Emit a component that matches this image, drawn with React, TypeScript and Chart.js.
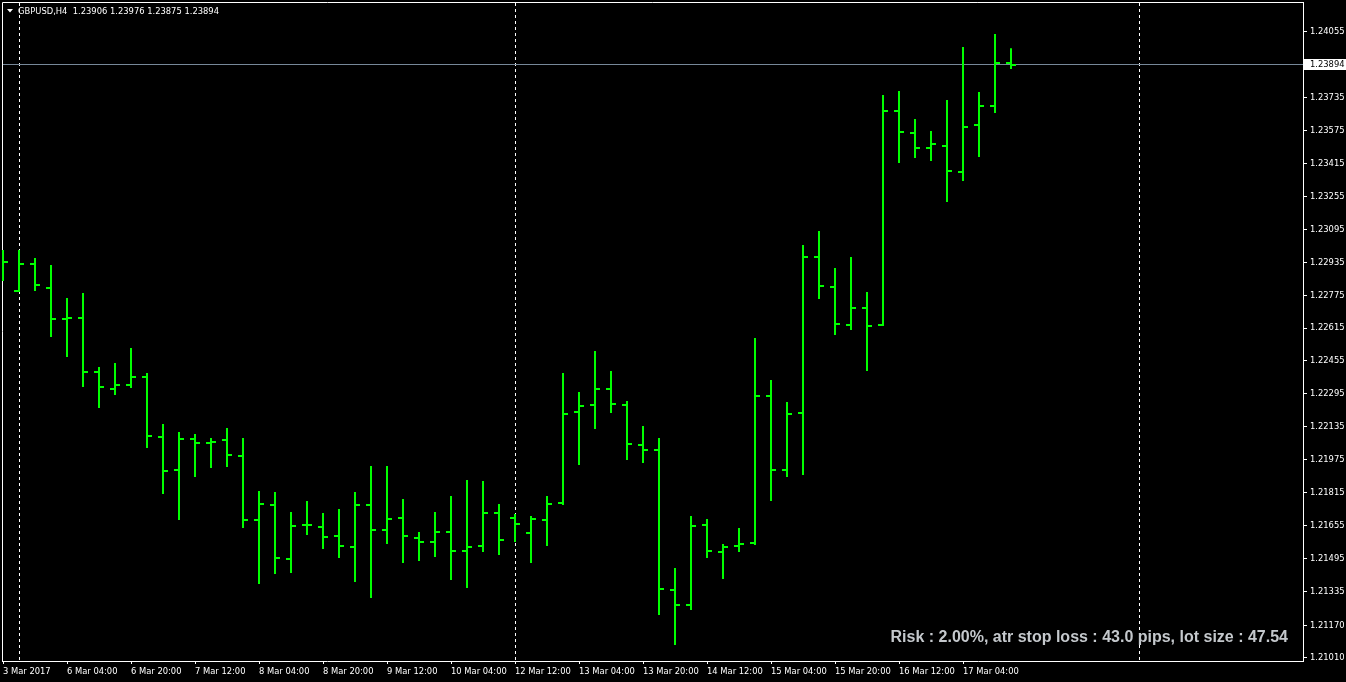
import React, { useEffect, useRef } from 'react';
import { Chart, registerables } from 'chart.js';

Chart.register(...registerables);

const symbol = 'GBPUSD';
const timeframe = 'H4';

const opens = [
  1.22897, 1.22795, 1.22927, 1.22810, 1.22659, 1.22664, 1.22401, 1.22319, 1.22338, 1.22377,
  1.22085, 1.21925, 1.22075, 1.22056, 1.22070, 1.21993, 1.21681, 1.21754, 1.21492, 1.21657,
  1.21647, 1.21604, 1.21550, 1.21754, 1.21633, 1.21691, 1.21594, 1.21574, 1.21623, 1.21531,
  1.21555, 1.21715, 1.21691, 1.21618, 1.21681, 1.21764, 1.22207, 1.22241, 1.22319, 1.22241,
  1.22046, 1.22022, 1.21341, 1.21268, 1.21657, 1.21526, 1.21555, 1.21570, 1.22285, 1.21925,
  1.22202, 1.22961, 1.22815, 1.22630, 1.22712, 1.22630, 1.23671, 1.23564, 1.23491, 1.23500,
  1.23374, 1.23603, 1.23695, 1.23906,
];

const highs = [
  1.22995, 1.22995, 1.22956, 1.22922, 1.22761, 1.22786, 1.22426, 1.22445, 1.22518, 1.22396,
  1.22148, 1.22109, 1.22100, 1.22080, 1.22129, 1.22080, 1.21822, 1.21818, 1.21720, 1.21774,
  1.21715, 1.21735, 1.21818, 1.21944, 1.21944, 1.21784, 1.21623, 1.21720, 1.21798, 1.21876,
  1.21871, 1.21759, 1.21711, 1.21701, 1.21798, 1.22396, 1.22304, 1.22503, 1.22406, 1.22260,
  1.22139, 1.22080, 1.21448, 1.21701, 1.21686, 1.21565, 1.21642, 1.22567, 1.22362, 1.22255,
  1.23019, 1.23087, 1.22907, 1.22961, 1.22790, 1.23749, 1.23768, 1.23632, 1.23574, 1.23724,
  1.23982, 1.23763, 1.24045, 1.23976,
];

const lows = [
  1.22844, 1.22790, 1.22795, 1.22572, 1.22474, 1.22328, 1.22226, 1.22289, 1.22323, 1.22032,
  1.21808, 1.21681, 1.21890, 1.21934, 1.21939, 1.21642, 1.21370, 1.21419, 1.21424, 1.21608,
  1.21540, 1.21496, 1.21380, 1.21302, 1.21565, 1.21472, 1.21482, 1.21501, 1.21390, 1.21351,
  1.21526, 1.21511, 1.21574, 1.21472, 1.21555, 1.21754, 1.21949, 1.22124, 1.22202, 1.21973,
  1.21959, 1.21219, 1.21073, 1.21244, 1.21496, 1.21394, 1.21526, 1.21560, 1.21774, 1.21890,
  1.21900, 1.22756, 1.22581, 1.22606, 1.22406, 1.22625, 1.23418, 1.23442, 1.23428, 1.23228,
  1.23330, 1.23447, 1.23661, 1.23875,
];

const closes = [
  1.22936, 1.22927, 1.22824, 1.22659, 1.22664, 1.22401, 1.22328, 1.22338, 1.22377, 1.22090,
  1.21920, 1.22075, 1.22056, 1.22061, 1.21997, 1.21681, 1.21759, 1.21496, 1.21652, 1.21657,
  1.21599, 1.21555, 1.21754, 1.21633, 1.21686, 1.21604, 1.21574, 1.21623, 1.21531, 1.21550,
  1.21715, 1.21584, 1.21662, 1.21686, 1.21759, 1.22197, 1.22236, 1.22319, 1.22246, 1.22051,
  1.22022, 1.21346, 1.21268, 1.21652, 1.21531, 1.21550, 1.21565, 1.22285, 1.21925, 1.22197,
  1.22961, 1.22820, 1.22635, 1.22712, 1.22625, 1.23671, 1.23569, 1.23491, 1.23510, 1.23379,
  1.23593, 1.23695, 1.23904, 1.23894,
];

const xTickLabels = [
  '3 Mar 2017', '6 Mar 04:00', '6 Mar 20:00', '7 Mar 12:00', '8 Mar 04:00', '8 Mar 20:00',
  '9 Mar 12:00', '10 Mar 04:00', '12 Mar 12:00', '13 Mar 04:00', '13 Mar 20:00', '14 Mar 12:00',
  '15 Mar 04:00', '15 Mar 20:00', '16 Mar 12:00', '17 Mar 04:00',
];
const xTickStep = 4;

const yTickValues = [
  1.24055, 1.23735, 1.23575, 1.23415, 1.23255, 1.23095, 1.22935, 1.22775, 1.22615, 1.22455,
  1.22295, 1.22135, 1.21975, 1.21815, 1.21655, 1.21495, 1.21335, 1.21170, 1.21010,
];

const separatorBars = [1, 32, 71];
const bidPrice = 1.23894;
const infoText = 'Risk : 2.00%, atr stop loss : 43.0 pips, lot size : 47.54';

const BAR_COLOR = '#00ff00';
const BID_COLOR = '#778899';
const AXIS_FONT = "'DejaVu Sans Condensed', 'Liberation Sans', sans-serif";
const AXIS_SIZE = 9.3;

export default function App() {
  const ref = useRef<HTMLCanvasElement>(null);

  useEffect(() => {
    document.body.style.margin = '0';
    document.body.style.background = '#000';
    const canvas = ref.current!;

    const mkTick = (side: 'open' | 'close') => {
      const c = document.createElement('canvas');
      c.width = 10;
      c.height = 2;
      const g = c.getContext('2d')!;
      g.fillStyle = BAR_COLOR;
      if (side === 'open') g.fillRect(0, 0, 4, 2);
      else g.fillRect(6, 0, 4, 2);
      return c;
    };
    const openImg = mkTick('open');
    const closeImg = mkTick('close');
    const idx = highs.map((_, i) => i);

    const mtPlugin = {
      id: 'mtDecor',
      beforeDraw(chart: any) {
        const ctx = chart.ctx;
        ctx.save();
        ctx.fillStyle = '#000';
        ctx.fillRect(0, 0, chart.width, chart.height);
        ctx.restore();
      },
      beforeDatasetsDraw(chart: any) {
        const ctx = chart.ctx;
        const a = chart.chartArea;
        const xs = chart.scales.x;
        const ys = chart.scales.y;
        ctx.save();
        ctx.strokeStyle = '#fff';
        ctx.lineWidth = 1;
        ctx.beginPath();
        ctx.moveTo(a.left + 0.5, a.bottom);
        ctx.lineTo(a.left + 0.5, a.top + 0.5);
        ctx.lineTo(a.right, a.top + 0.5);
        ctx.stroke();
        ctx.setLineDash([3, 3]);
        separatorBars.forEach((b) => {
          const x = Math.round(xs.getPixelForValue(b)) + 0.5;
          ctx.beginPath();
          ctx.moveTo(x, a.top + 1);
          ctx.lineTo(x, a.bottom);
          ctx.stroke();
        });
        ctx.setLineDash([]);
        const by = Math.round(ys.getPixelForValue(bidPrice)) - 0.5;
        ctx.strokeStyle = BID_COLOR;
        ctx.beginPath();
        ctx.moveTo(a.left + 1, by);
        ctx.lineTo(a.right, by);
        ctx.stroke();
        ctx.restore();
      },
      afterDraw(chart: any) {
        const ctx = chart.ctx;
        const a = chart.chartArea;
        const ys = chart.scales.y;
        ctx.save();
        const last = highs.length - 1;
        const title = `${symbol},${timeframe}  ${opens[last].toFixed(5)} ${highs[last].toFixed(5)} ${lows[last].toFixed(5)} ${closes[last].toFixed(5)}`;
        ctx.fillStyle = '#fff';
        ctx.beginPath();
        ctx.moveTo(7, 9);
        ctx.lineTo(13, 9);
        ctx.lineTo(10, 12.5);
        ctx.closePath();
        ctx.fill();
        ctx.font = `${AXIS_SIZE}px ${AXIS_FONT}`;
        ctx.textBaseline = 'alphabetic';
        ctx.textAlign = 'left';
        ctx.fillText(title, 18, 14);
        const by = Math.round(ys.getPixelForValue(bidPrice)) - 0.5;
        ctx.strokeStyle = '#fff';
        ctx.beginPath();
        ctx.moveTo(a.right, by);
        ctx.lineTo(a.right + 4, by);
        ctx.stroke();
        ctx.fillStyle = '#fff';
        ctx.fillRect(a.right + 1, by - 5.5, chart.width - a.right - 1, 11);
        ctx.fillStyle = '#000';
        ctx.textBaseline = 'middle';
        ctx.fillText(bidPrice.toFixed(5), a.right + 7, by + 0.5);
        ctx.font = `bold 16px 'Liberation Sans', Arial, sans-serif`;
        ctx.fillStyle = '#c4c8cc';
        ctx.textAlign = 'right';
        ctx.textBaseline = 'alphabetic';
        ctx.fillText(infoText, a.right - 15, 642);
        ctx.restore();
      },
    };

    const chart = new Chart(canvas, {
      type: 'bar',
      data: {
        datasets: [
          {
            type: 'bar',
            data: idx.map((i) => ({ x: i, y: [lows[i], highs[i]] })),
            backgroundColor: BAR_COLOR,
            barThickness: 2,
            borderWidth: 0,
            inflateAmount: 0,
            grouped: false,
          } as any,
          {
            type: 'line',
            data: idx.map((i) => ({ x: i, y: opens[i] })),
            showLine: false,
            pointStyle: openImg,
            pointRadius: 3,
            borderWidth: 0,
          } as any,
          {
            type: 'line',
            data: idx.map((i) => ({ x: i, y: closes[i] })),
            showLine: false,
            pointStyle: closeImg,
            pointRadius: 3,
            borderWidth: 0,
          } as any,
        ],
      },
      options: {
        animation: false,
        responsive: false,
        devicePixelRatio: 1,
        events: [],
        layout: { autoPadding: false, padding: { left: 2, top: 2, right: 0, bottom: 0 } },
        plugins: { legend: { display: false }, tooltip: { enabled: false } },
        scales: {
          x: {
            type: 'linear',
            position: 'bottom',
            min: -0.0625,
            max: 81.25,
            offset: false,
            afterBuildTicks: (s: any) => {
              s.ticks = xTickLabels.map((_, k) => ({ value: k * xTickStep }));
            },
            afterFit: (s: any) => {
              s.height = 21;
              s.paddingLeft = 0;
              s.paddingRight = 0;
              s.paddingTop = 0;
              s.paddingBottom = 0;
            },
            ticks: {
              autoSkip: false,
              maxRotation: 0,
              minRotation: 0,
              align: 'start',
              color: '#fff',
              padding: 2,
              font: { family: AXIS_FONT, size: AXIS_SIZE },
              callback: (_v: any, i: number) => xTickLabels[i],
            },
            grid: { drawOnChartArea: false, drawTicks: true, tickLength: 3, color: '#fff', offset: false },
            border: { display: true, color: '#fff' },
          },
          y: {
            type: 'linear',
            position: 'right',
            min: 1.209954,
            max: 1.242009,
            afterBuildTicks: (s: any) => {
              s.ticks = yTickValues.map((v) => ({ value: v }));
            },
            afterFit: (s: any) => {
              s.width = 43;
              s.paddingTop = 0;
              s.paddingBottom = 0;
              s.paddingLeft = 0;
              s.paddingRight = 0;
            },
            ticks: {
              autoSkip: false,
              color: '#fff',
              padding: 3,
              font: { family: AXIS_FONT, size: AXIS_SIZE },
              callback: (v: any) => Number(v).toFixed(5),
            },
            grid: { drawOnChartArea: false, drawTicks: true, tickLength: 4, color: '#fff' },
            border: { display: true, color: '#fff' },
          },
        },
      } as any,
      plugins: [mtPlugin],
    });

    return () => chart.destroy();
  }, []);

  return <canvas ref={ref} width={1346} height={682} style={{ display: 'block', width: 1346, height: 682 }} />;
}
